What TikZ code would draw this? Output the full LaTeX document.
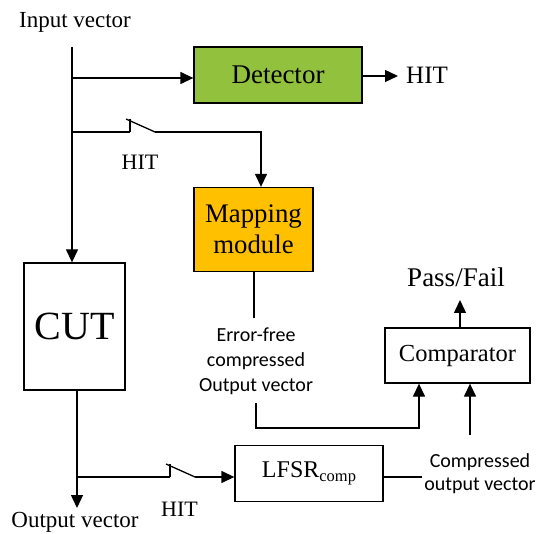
\documentclass[tikz,border=0pt]{standalone}
\usepackage{fontspec}
\setmainfont{Liberation Serif}
\newfontfamily\labelsans{Carlito}
\usetikzlibrary{arrows.meta}
\definecolor{detgreen}{HTML}{92C13E}
\definecolor{mapgold}{HTML}{FFC000}
\begin{document}
\begin{tikzpicture}[x=1pt,y=-1pt,
  wire/.style={line width=1.3pt},
  arr/.style={wire,-{Triangle[length=13pt,width=12pt]}},
  block/.style={draw,line width=1.3pt,inner sep=0pt,align=center},
  fs/.style 2 args={font=\fontsize{#1}{#2}\selectfont},
  sanslabel/.style={align=center,inner sep=0pt,font=\labelsans\fontsize{20}{#1}\selectfont},
  switchsym/.pic={
    \draw[line width=2.2pt] (0,0) -- (20,0);
    \draw[wire] (20,0) -- (20,-13);
    \draw[wire] (16,-13) -- (45,0);
    \draw[line width=2.2pt] (45,0) -- (60,0);
  }]
\useasboundingbox (0,0) rectangle (538,534);

% blocks
\node[block,fill=detgreen,minimum width=168pt,minimum height=56pt,fs={27}{32}] (det) at (278,75) {Detector};
\node[block,fill=mapgold,minimum width=119pt,minimum height=84pt,fs={26.8}{31}] (map) at (253.5,229.5) {Mapping\\module};
\node[block,minimum width=101pt,minimum height=127pt,fs={40}{46}] (cut) at (74.5,326.5) {CUT};
\node[block,minimum width=145pt,minimum height=55pt,fs={24.5}{29}] (cmp) at (457.5,355.5) {Comparator};
\node[block,minimum width=148pt,minimum height=56pt,fs={24}{28}] (lfsr) at (309,473.5)
  {LFSR{\fontsize{16.5}{18}\selectfont\raisebox{-4.5pt}{comp}}};

% text labels
\node[fs={23}{27},inner sep=0pt] (invec) at (75,22) {Input vector};
\node[fs={23}{27},inner sep=0pt] (outvec) at (75,522) {Output vector};
\node[fs={25}{30},inner sep=0pt,anchor=west] (hitdet) at (406,75) {HIT};
\node[fs={22}{26},inner sep=0pt] (hitmap) at (140,162.5) {HIT};
\node[fs={22}{26},inner sep=0pt] (hitlfsr) at (179.5,509.5) {HIT};
\node[fs={27}{32},inner sep=0pt] (pf) at (456,277) {Pass/Fail};
\node[sanslabel=25] (efree) at (256,361) {Error-free\\compressed\\Output vector};
\node[sanslabel=23] (cov) at (480,473.5) {Compressed\\output vector};

% junctions and free ends
\coordinate (top) at (72,47);
\coordinate (jdet) at (72,78);
\coordinate (jmap) at (72,132);
\coordinate (sw1) at (110,132);
\coordinate (sw1e) at (170,132);
\coordinate (turn1) at (261,132);
\coordinate (detout) at (398,76);
\coordinate (mapend) at (254,318);
\coordinate (efstart) at (256,403);
\coordinate (efturn) at (256,428);
\coordinate (cmpturn) at (419,428);
\coordinate (pfend) at (460,300);
\coordinate (covstart) at (470,435);
\coordinate (cutout) at (77,390);
\coordinate (outend) at (77,508);
\coordinate (jlfsr) at (77,477);
\coordinate (sw2) at (150,477);
\coordinate (sw2e) at (210,477);
\coordinate (lfsrend) at (422,477);

% input path
\draw[arr] (top) -- (top |- cut.north);
\draw[arr] (jdet) -- (det.west |- jdet);
\draw[arr] (det.east |- detout) -- (detout);

% switched path to the mapping module
\draw[wire] (jmap) -- (sw1);
\pic at (sw1) {switchsym};
\draw[arr] (sw1e) -- (turn1) -- (turn1 |- map.north);

% error-free reference to the comparator
\draw[wire] (map.south -| mapend) -- (mapend);
\draw[arr] (efstart) -- (efturn) -- (cmpturn) -- (cmpturn |- cmp.south);
\draw[arr] (cmp.north -| pfend) -- (pfend);
\draw[arr] (covstart) -- (covstart |- cmp.south);

% output path
\draw[arr] (cut.south -| cutout) -- (outend);
\draw[wire] (jlfsr) -- (sw2);
\pic at (sw2) {switchsym};
\draw[arr] (sw2e) -- (lfsr.west |- sw2e);
\draw[wire] (lfsr.east |- lfsrend) -- (lfsrend);
\end{tikzpicture}
\end{document}
